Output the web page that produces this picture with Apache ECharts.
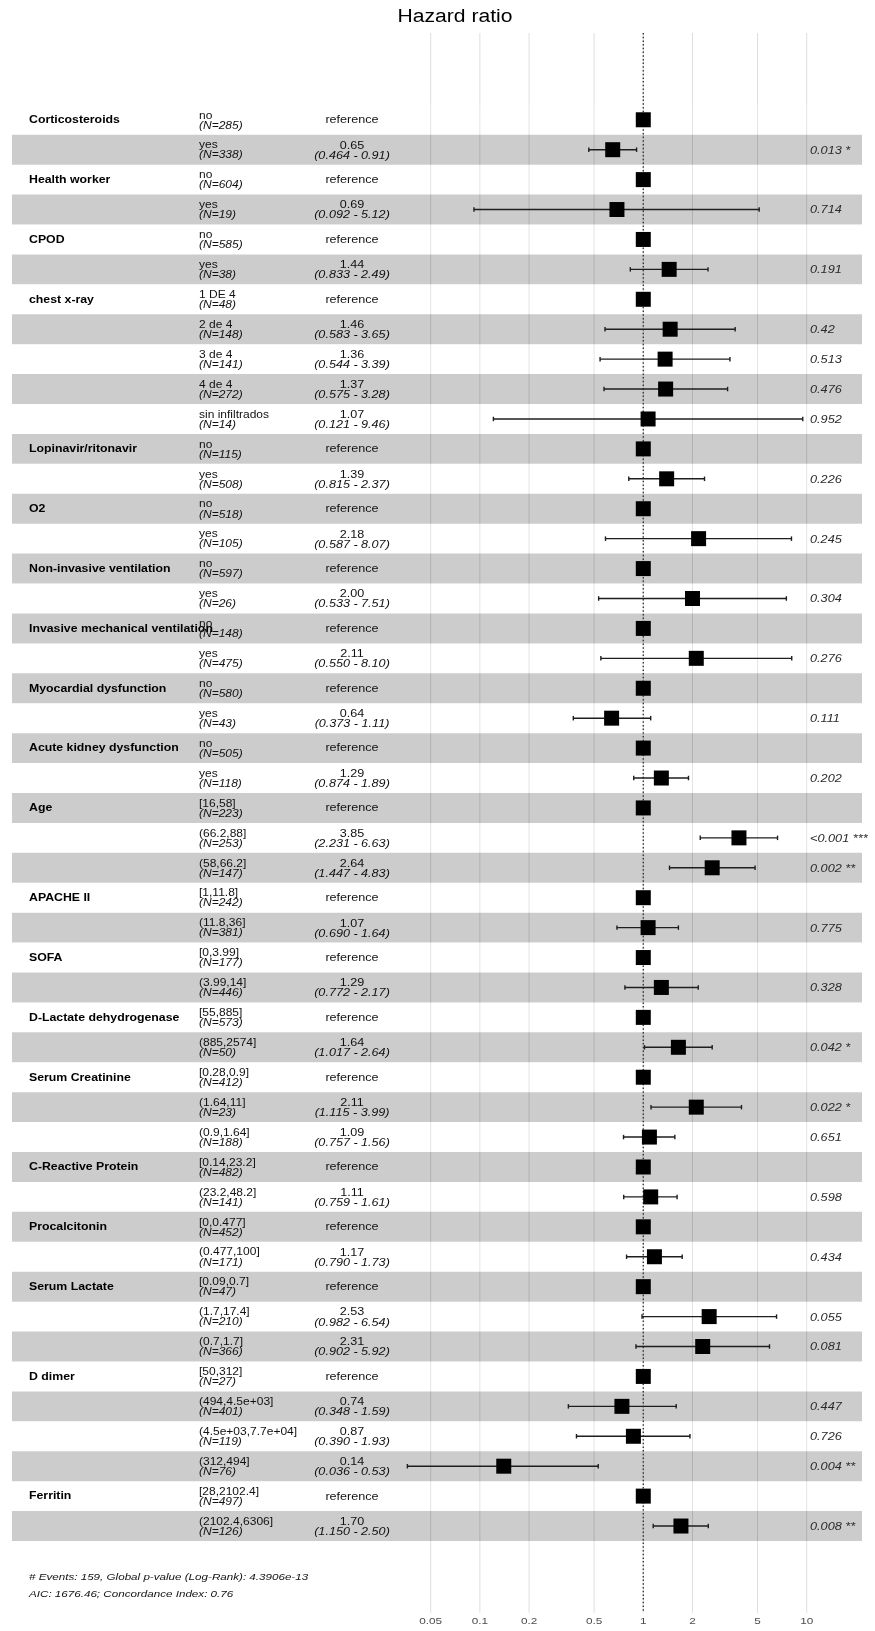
<!DOCTYPE html>
<html>
<head>
<meta charset="utf-8">
<script src="https://cdn.jsdelivr.net/npm/echarts@6/dist/echarts.min.js"></script>
<style>
  html, body { margin: 0; padding: 0; background: #ffffff; }
  #chart { width: 875px; height: 1631px; }
</style>
</head>
<body>
<div id="chart"></div>
<script>
// ---- Cox model results, one entry per table row (top to bottom) ----
const variableName = [
  'Corticosteroids', '', 'Health worker', '', 'CPOD', '',
  'chest x-ray', '', '', '', '',
  'Lopinavir/ritonavir', '', 'O2', '', 'Non-invasive ventilation', '',
  'Invasive mechanical ventilation', '', 'Myocardial dysfunction', '',
  'Acute kidney dysfunction', '', 'Age', '', '', 'APACHE II', '', 'SOFA', '',
  'D-Lactate dehydrogenase', '', 'Serum Creatinine', '', '',
  'C-Reactive Protein', '', 'Procalcitonin', '', 'Serum Lactate', '', '',
  'D dimer', '', '', '', 'Ferritin', ''
];
const levelName = [
  'no', 'yes', 'no', 'yes', 'no', 'yes',
  '1 DE 4', '2 de 4', '3 de 4', '4 de 4', 'sin infiltrados',
  'no', 'yes', 'no', 'yes', 'no', 'yes', 'no', 'yes', 'no', 'yes', 'no', 'yes',
  '[16,58]', '(66.2,88]', '(58,66.2]', '[1,11.8]', '(11.8,36]', '[0,3.99]', '(3.99,14]',
  '[55,885]', '(885,2574]', '[0.28,0.9]', '(1.64,11]', '(0.9,1.64]',
  '[0.14,23.2]', '(23.2,48.2]', '[0,0.477]', '(0.477,100]',
  '[0.09,0.7]', '(1.7,17.4]', '(0.7,1.7]',
  '[50,312]', '(494,4.5e+03]', '(4.5e+03,7.7e+04]', '(312,494]',
  '[28,2102.4]', '(2102.4,6306]'
];
const nCount = [
  285, 338, 604, 19, 585, 38, 48, 148, 141, 272, 14, 115, 508, 518, 105, 597, 26,
  148, 475, 580, 43, 505, 118, 223, 253, 147, 242, 381, 177, 446, 573, 50,
  412, 23, 188, 482, 141, 452, 171, 47, 210, 366, 27, 401, 119, 76, 497, 126
];
// null = reference level (hazard ratio fixed at 1)
const hazardRatio = [
  null, 0.65, null, 0.69, null, 1.44, null, 1.46, 1.36, 1.37, 1.07, null, 1.39,
  null, 2.18, null, 2.00, null, 2.11, null, 0.64, null, 1.29, null, 3.85, 2.64,
  null, 1.07, null, 1.29, null, 1.64, null, 2.11, 1.09, null, 1.11, null, 1.17,
  null, 2.53, 2.31, null, 0.74, 0.87, 0.14, null, 1.70
];
const ciLow = [
  null, 0.464, null, 0.092, null, 0.833, null, 0.583, 0.544, 0.575, 0.121, null, 0.815,
  null, 0.587, null, 0.533, null, 0.550, null, 0.373, null, 0.874, null, 2.231, 1.447,
  null, 0.690, null, 0.772, null, 1.017, null, 1.115, 0.757, null, 0.759, null, 0.790,
  null, 0.982, 0.902, null, 0.348, 0.390, 0.036, null, 1.150
];
const ciHigh = [
  null, 0.91, null, 5.12, null, 2.49, null, 3.65, 3.39, 3.28, 9.46, null, 2.37,
  null, 8.07, null, 7.51, null, 8.10, null, 1.11, null, 1.89, null, 6.63, 4.83,
  null, 1.64, null, 2.17, null, 2.64, null, 3.99, 1.56, null, 1.61, null, 1.73,
  null, 6.54, 5.92, null, 1.59, 1.93, 0.53, null, 2.50
];
const pValueText = [
  '', '0.013 *', '', '0.714', '', '0.191', '', '0.42', '0.513', '0.476', '0.952',
  '', '0.226', '', '0.245', '', '0.304', '', '0.276', '', '0.111', '', '0.202',
  '', '<0.001 ***', '0.002 **', '', '0.775', '', '0.328', '', '0.042 *',
  '', '0.022 *', '0.651', '', '0.598', '', '0.434', '', '0.055', '0.081',
  '', '0.447', '0.726', '0.004 **', '', '0.008 **'
];
const referenceHR = 1;

// ---- axis ----
const tickValues = [0.05, 0.1, 0.2, 0.5, 1, 2, 5, 10];
const tickLabels = ['0.05', '0.1', '0.2', '0.5', '1', '2', '5', '10'];
const footnoteLines = [
  '# Events: 159, Global p-value (Log-Rank): 4.3906e-13',
  'AIC: 1676.46; Concordance Index: 0.76'
];

// ---- layout ----
const X_MIN = 1.37e-4, X_MAX = 21.8;     // full width of the striped panel
const Y_MIN = -1.9, Y_MAX = 50.9;         // row index range incl. panel padding
const SX = 1.2;                           // horizontal stretch of all text
const FONT = '"Liberation Sans", Arial, Helvetica, sans-serif';
const COL_VAR = 29, COL_LEVEL = 199, COL_HR = 352, COL_P = 810;

const rows = levelName.map((_, i) => i + 1);

function txt(x, y, s, o) {
  return {
    type: 'text', x: x, y: y, scaleX: SX, silent: true,
    style: {
      text: s, fontFamily: FONT, fontSize: o.size,
      fontWeight: o.weight || 'normal', fontStyle: o.style || 'normal',
      fill: o.color || '#111', align: o.align || 'left', verticalAlign: 'middle'
    }
  };
}

const chart = echarts.init(document.getElementById('chart'), null, { renderer: 'canvas' });

const option = {
  animation: false,
  backgroundColor: '#ffffff',
  grid: { left: 12, right: 13, top: 33, bottom: 18.2, containLabel: false },
  xAxis: {
    type: 'log', logBase: 10, min: X_MIN, max: X_MAX,
    axisLine: { show: false }, axisTick: { show: false },
    axisLabel: { show: false }, splitLine: { show: false }
  },
  yAxis: {
    type: 'value', inverse: true, min: Y_MIN, max: Y_MAX,
    axisLine: { show: false }, axisTick: { show: false },
    axisLabel: { show: false }, splitLine: { show: false }
  },
  graphic: [
    {
      type: 'text', x: 455, y: 17, scaleX: SX,
      style: {
        text: 'Hazard ratio', fontFamily: FONT, fontSize: 17.6, fill: '#000',
        align: 'center', verticalAlign: 'middle'
      }
    },
    ...footnoteLines.map((line, k) => ({
      type: 'text', x: COL_VAR, y: 1577 + k * 17, scaleX: SX,
      style: {
        text: line, fontFamily: FONT, fontSize: 9.7, fontStyle: 'italic',
        fill: '#111', align: 'left', verticalAlign: 'middle'
      }
    }))
  ],
  series: [
    {
      // vertical grid lines and their tick labels
      type: 'custom', z: 1, silent: true,
      data: tickValues.map(v => [v, 0]),
      renderItem: function (params, api) {
        const cs = params.coordSys;
        const x = api.coord([api.value(0), 0])[0];
        return {
          type: 'group',
          children: [
            {
              type: 'line',
              shape: { x1: x, y1: cs.y, x2: x, y2: cs.y + cs.height },
              style: { stroke: '#dedede', lineWidth: 1 }
            },
            txt(x, cs.y + cs.height + 8.5, tickLabels[params.dataIndex],
              { size: 9.8, color: '#4d4d4d', align: 'center' })
          ]
        };
      }
    },
    {
      // alternating row stripes
      type: 'custom', z: 2, silent: true,
      data: rows.map(r => [1, r]),
      renderItem: function (params, api) {
        const r = api.value(1);
        const p0 = api.coord([X_MIN, r - 0.5]);
        const p1 = api.coord([X_MAX, r + 0.5]);
        return {
          type: 'rect',
          shape: { x: p0[0], y: p0[1], width: p1[0] - p0[0], height: p1[1] - p0[1] },
          style: { fill: r % 2 === 0 ? 'rgba(0,0,0,0.2)' : 'rgba(255,255,255,0.2)' }
        };
      }
    },
    {
      // line of no effect
      type: 'custom', z: 3, silent: true,
      data: [[referenceHR, 0]],
      renderItem: function (params, api) {
        const cs = params.coordSys;
        const x = api.coord([api.value(0), 0])[0];
        return {
          type: 'line',
          shape: { x1: x, y1: cs.y, x2: x, y2: cs.y + cs.height },
          style: { stroke: '#3a3a3a', lineWidth: 1.4, lineDash: [1.5, 2.2] }
        };
      }
    },
    {
      // confidence intervals
      type: 'custom', z: 4, silent: true,
      data: rows.filter((r, i) => ciLow[i] !== null).map(r => [ciLow[r - 1], ciHigh[r - 1], r]),
      renderItem: function (params, api) {
        const lo = api.value(0), hi = api.value(1), r = api.value(2);
        const a = api.coord([lo, r]);
        const b = api.coord([hi, r]);
        const capTop = api.coord([lo, r - 0.075])[1];
        const capBot = api.coord([lo, r + 0.075])[1];
        const st = { stroke: '#1e1e1e', lineWidth: 1.4 };
        return {
          type: 'group',
          children: [
            { type: 'line', shape: { x1: a[0], y1: a[1], x2: b[0], y2: b[1] }, style: st },
            { type: 'line', shape: { x1: a[0], y1: capTop, x2: a[0], y2: capBot }, style: st },
            { type: 'line', shape: { x1: b[0], y1: capTop, x2: b[0], y2: capBot }, style: st }
          ]
        };
      },
      encode: { x: [0, 1], y: 2 }
    },
    {
      // point estimates
      type: 'scatter', z: 5, silent: true,
      symbol: 'rect', symbolSize: 15,
      itemStyle: { color: '#000000', opacity: 1 },
      data: rows.map((r, i) => [hazardRatio[i] === null ? referenceHR : hazardRatio[i], r])
    },
    {
      // table text: variable, level, N, estimate, CI, p-value
      type: 'custom', z: 6, silent: true,
      data: rows.map(r => [1, r]),
      renderItem: function (params, api) {
        const i = params.dataIndex;
        const cy = api.coord([1, api.value(1)])[1];
        const c = [];
        if (variableName[i]) {
          c.push(txt(COL_VAR, cy + 0.5, variableName[i], { size: 10.25, weight: 'bold', color: '#000' }));
        }
        c.push(txt(COL_LEVEL, cy - 4, levelName[i], { size: 10 }));
        c.push(txt(COL_LEVEL, cy + 6, '(N=' + nCount[i] + ')', { size: 10, style: 'italic' }));
        if (hazardRatio[i] === null) {
          c.push(txt(COL_HR, cy + 0.5, 'reference', { size: 10.5, align: 'center' }));
        } else {
          c.push(txt(COL_HR, cy - 4, hazardRatio[i].toFixed(2), { size: 10.5, align: 'center' }));
          c.push(txt(COL_HR, cy + 6,
            '(' + ciLow[i].toFixed(3) + ' - ' + ciHigh[i].toFixed(2) + ')',
            { size: 10.5, style: 'italic', align: 'center' }));
        }
        if (pValueText[i]) {
          c.push(txt(COL_P, cy + 1, pValueText[i], { size: 10.6, style: 'italic', color: '#2a2a2a' }));
        }
        return { type: 'group', children: c };
      }
    }
  ]
};

chart.setOption(option);
</script>
</body>
</html>
